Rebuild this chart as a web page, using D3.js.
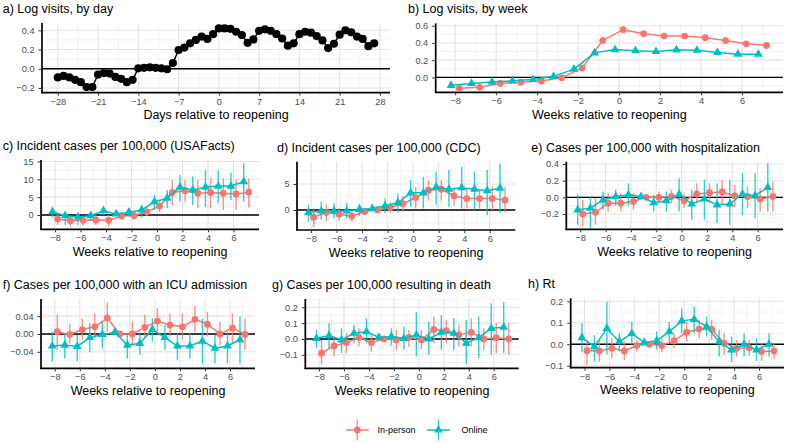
<!DOCTYPE html>
<html><head><meta charset="utf-8">
<script src="https://cdn.jsdelivr.net/npm/d3@7"></script>
<style>body{margin:0;background:#fff} svg{display:block} text{font-family:"Liberation Sans",Arial,Helvetica,sans-serif}</style>
</head><body><svg id="chart" width="786" height="443"></svg>
<script>
// ---------------- DATA ----------------
const days = [-28,-27,-26,-25,-24,-23,-22,-21,-20,-19,-18,-17,-16,-15,-14,-13,-12,-11,-10,-9,-8,-7,-6,-5,-4,-3,-2,-1,0,1,2,3,4,5,6,7,8,9,10,11,12,13,14,15,16,17,18,19,20,21,22,23,24,25,26,27];
const visitsByDay = [-0.09,-0.075,-0.09,-0.115,-0.14,-0.19,-0.19,-0.06,-0.045,-0.05,-0.085,-0.105,-0.14,-0.115,0.005,0.01,0.015,0.01,0.005,-0.005,0.06,0.195,0.22,0.265,0.30,0.335,0.31,0.36,0.42,0.42,0.415,0.385,0.35,0.27,0.305,0.395,0.41,0.395,0.36,0.315,0.24,0.265,0.36,0.385,0.375,0.34,0.295,0.215,0.26,0.355,0.40,0.38,0.335,0.31,0.235,0.265];
const weeks = [-8,-7,-6,-5,-4,-3,-2,-1,0,1,2,3,4,5,6,7];
const seriesNames = ["In-person","Online"];

const visitsWeekInPerson = [-0.127,-0.115,-0.07,-0.055,-0.042,-0.005,0.11,0.427,0.554,0.508,0.48,0.48,0.46,0.427,0.39,0.37];
const visitsWeekOnline   = [-0.092,-0.07,-0.054,-0.04,-0.023,0.012,0.096,0.285,0.323,0.31,0.30,0.32,0.315,0.29,0.27,0.27];

const usafactsInPerson   = [-1.1,-1.6,-1.5,-1.4,-1.5,-0.3,-0.2,0.9,2.5,6.3,6.8,6.1,6.3,6.1,5.9,6.4];
const usafactsInPersonLo = [-2.8,-3.3,-3.1,-2.8,-3.3,-0.3,-1.2,-0.3,0.9,2.8,3.7,1.9,1.9,1.4,1.4,2.2];
const usafactsInPersonHi = [0.5,-0.3,-0.3,0,0,-0.3,0.9,2.2,4.0,9.8,9.8,9.8,10.3,10.3,9.8,10.3];
const usafactsOnline     = [0.9,-0.2,-0.6,-0.2,1.2,0.3,0.8,1.4,3.7,4.7,7.8,7.0,7.8,8.1,8.1,9.3];
const usafactsOnlineLo   = [-0.7,-2.8,-2.8,-1.4,0,0.3,-0.3,-0.7,1.4,1.9,3.7,2.8,2.3,3.3,4.2,3.7];
const usafactsOnlineHi   = [2.3,0.9,0.7,0.7,2.2,0.3,1.9,2.8,5.6,7.0,11.2,10.8,12.6,12.6,11.9,14.5];

const cdcInPerson   = [-1.4,-0.5,-0.8,-1.2,-0.3,0,0.5,1.2,2.4,3.8,4.0,2.7,2.2,2.2,2.2,1.9];
const cdcInPersonLo = [-3.3,-2.2,-2.1,-2.2,-1.0,0,-0.6,-0.3,0.3,1.8,1.8,0.8,0.3,0.3,0,-0.5];
const cdcInPersonHi = [0.3,1.2,0.5,-0.1,0.3,0,1.6,2.7,4.5,5.8,5.8,4.5,4.2,4.0,4.5,4.5];
const cdcOnline     = [-0.5,-0.2,-0.2,-0.2,0.1,0.3,0.8,1.4,3.3,3.3,4.4,4.0,4.3,4.0,3.7,4.2];
const cdcOnlineLo   = [-2.2,-1.9,-1.6,-1.6,-1.2,0.3,-0.6,-0.5,0.6,0.3,1.0,0.6,0.3,0,-1.0,-0.6];
const cdcOnlineHi   = [1.0,1.6,1.3,1.4,1.2,0.3,2.2,3.2,5.8,6.4,7.4,7.7,8.3,7.4,7.7,9.0];

const hospInPerson   = [-0.2,-0.18,-0.07,-0.07,-0.05,0,0,0.01,-0.04,0.04,0.055,0.065,0.02,0.01,-0.02,0.01];
const hospInPersonLo = [-0.35,-0.33,-0.17,-0.17,-0.15,0,-0.07,-0.07,-0.13,-0.08,-0.07,-0.09,-0.12,-0.13,-0.17,-0.17];
const hospInPersonHi = [-0.03,-0.01,0.05,0.05,0.05,0,0.07,0.09,0.05,0.17,0.17,0.21,0.15,0.13,0.11,0.19];
const hospOnline     = [-0.15,-0.13,-0.03,0.01,0.03,0.01,-0.065,-0.04,0.035,-0.08,-0.02,-0.09,-0.08,0.04,0.02,0.12];
const hospOnlineLo   = [-0.33,-0.37,-0.15,-0.1,-0.1,0.01,-0.17,-0.17,-0.17,-0.27,-0.27,-0.31,-0.33,-0.21,-0.25,-0.17];
const hospOnlineHi   = [0.03,0.01,0.07,0.09,0.17,0.01,0.03,0.07,0.23,0.09,0.21,0.17,0.21,0.29,0.29,0.41];

const icuInPerson   = [0.005,-0.001,0.01,0.016,0.036,0,0,0.015,0.029,0.02,0.016,0.033,0.022,0,0.013,-0.001];
const icuInPersonLo = [-0.036,-0.021,-0.013,-0.010,0.005,0,-0.025,-0.010,0.005,-0.006,-0.013,0.005,-0.006,-0.025,-0.021,-0.036];
const icuInPersonHi = [0.044,0.022,0.035,0.046,0.071,0,0.028,0.043,0.058,0.046,0.046,0.064,0.05,0.028,0.046,0.035];
const icuOnline     = [-0.027,-0.025,-0.028,-0.008,-0.001,0.004,-0.025,-0.021,0.01,-0.008,-0.027,-0.027,-0.016,-0.032,-0.027,-0.013];
const icuOnlineLo   = [-0.062,-0.055,-0.061,-0.041,-0.032,0.004,-0.055,-0.047,-0.017,-0.036,-0.058,-0.055,-0.066,-0.066,-0.066,-0.066];
const icuOnlineHi   = [0.005,0.001,-0.002,0.024,0.028,0.004,0.001,0.005,0.035,0.020,0.001,0.001,0.035,-0.002,0.005,0.039];

const deathInPerson   = [-0.09,-0.044,-0.023,0.01,-0.023,0,-0.006,0.01,-0.006,0.06,0.053,0.025,0.042,0,0.008,0];
const deathInPersonLo = [-0.16,-0.11,-0.09,-0.048,-0.08,0,-0.069,-0.048,-0.063,-0.027,-0.027,-0.048,-0.048,-0.069,-0.09,-0.10];
const deathInPersonHi = [-0.006,0.015,0.036,0.067,0.036,0,0.057,0.057,0.057,0.14,0.12,0.088,0.13,0.067,0.099,0.099];
const deathOnline     = [0.004,0.021,-0.006,0.036,0.046,0.01,0.015,0.004,0.025,0,0.042,0.036,-0.027,0.008,0.067,0.074];
const deathOnlineLo   = [-0.055,-0.059,-0.09,-0.027,-0.027,0.01,-0.042,-0.069,-0.11,-0.10,-0.069,-0.069,-0.16,-0.12,-0.10,-0.09];
const deathOnlineHi   = [0.057,0.099,0.067,0.088,0.13,0.01,0.067,0.078,0.17,0.11,0.15,0.13,0.12,0.14,0.225,0.235];

const rtInPerson   = [-0.03,-0.031,-0.019,-0.031,-0.006,0,-0.006,0.017,0.056,0.071,0.07,0.005,-0.019,-0.016,-0.034,-0.031];
const rtInPersonLo = [-0.096,-0.081,-0.065,-0.073,-0.034,0,-0.037,-0.019,0.012,0.028,0.02,-0.05,-0.057,-0.053,-0.078,-0.068];
const rtInPersonHi = [0.02,0.02,0.028,0.012,0.02,0,0.028,0.051,0.105,0.113,0.113,0.051,0.02,0.02,0.005,0.005];
const rtOnline     = [0.031,-0.011,0.074,0.012,0.051,0.008,0.017,0.059,0.109,0.116,0.082,0.012,-0.026,0,-0.026,0];
const rtOnlineLo   = [-0.037,-0.081,-0.047,-0.034,-0.006,0.008,-0.026,0.012,0.051,0.051,0.036,-0.057,-0.084,-0.057,-0.078,-0.057];
const rtOnlineHi   = [0.098,0.043,0.198,0.051,0.105,0.008,0.059,0.105,0.167,0.175,0.129,0.067,0.036,0.051,0.028,0.051];

const dayTicks = [-28,-21,-14,-7,0,7,14,21,28];
const weekTicks = [-8,-6,-4,-2,0,2,4,6];
const titles = {
  a:"a) Log visits, by day", b:"b) Log visits, by week",
  c:"c) Incident cases per 100,000 (USAFacts)", d:"d) Incident cases per 100,000 (CDC)",
  e:"e) Cases per 100,000 with hospitalization", f:"f) Cases per 100,000 with an ICU admission",
  g:"g) Cases per 100,000 resulting in death", h:"h) Rt"
};
const dayAxisTitle = "Days relative to reopening";
const weekAxisTitle = "Weeks relative to reopening";

// ---------------- STYLE / LAYOUT ----------------
const COLORS = ["#F8766D","#00BFC4"];
const FONT_TICK = 9.2, FONT_TITLE = 12.5;
const svg = d3.select("#chart");
const minus = s => String(s).replace(/-/g, "\u2212");

function panel(o){
  const [L,T,R,B] = o.box;
  const g = svg.append("g");
  const x = d3.scaleLinear().domain(o.xDomain).range([L,R]);
  const y = d3.scaleLinear().domain(o.yDomain).range([B,T]);
  const xMinor = o.xTicks.slice(0,-1).map((t,i)=>(t+o.xTicks[i+1])/2)
      .concat([o.xTicks[0]-(o.xTicks[1]-o.xTicks[0])/2, o.xTicks[o.xTicks.length-1]+(o.xTicks[1]-o.xTicks[0])/2])
      .filter(v=>v>o.xDomain[0]&&v<o.xDomain[1]);
  const yStep = o.yTicks[1]-o.yTicks[0];
  const yMinor = o.yTicks.map(t=>t-yStep/2).concat([o.yTicks[o.yTicks.length-1]+yStep/2])
      .filter(v=>v>o.yDomain[0]&&v<o.yDomain[1]);
  // grid
  g.selectAll(null).data(xMinor).join("line").attr("x1",d=>x(d)).attr("x2",d=>x(d)).attr("y1",T).attr("y2",B).attr("stroke","#EBEBEB").attr("stroke-width",0.6);
  g.selectAll(null).data(yMinor).join("line").attr("y1",d=>y(d)).attr("y2",d=>y(d)).attr("x1",L).attr("x2",R).attr("stroke","#EBEBEB").attr("stroke-width",0.6);
  g.selectAll(null).data(o.xTicks.filter(v=>v>=o.xDomain[0]&&v<=o.xDomain[1])).join("line").attr("x1",d=>x(d)).attr("x2",d=>x(d)).attr("y1",T).attr("y2",B).attr("stroke","#E3E3E3").attr("stroke-width",1.1);
  g.selectAll(null).data(o.yTicks).join("line").attr("y1",d=>y(d)).attr("y2",d=>y(d)).attr("x1",L).attr("x2",R).attr("stroke","#E3E3E3").attr("stroke-width",1.1);
  // zero line
  g.append("line").attr("x1",L).attr("x2",R).attr("y1",y(0)).attr("y2",y(0)).attr("stroke","#000").attr("stroke-width",1.4);
  // axes
  const xa = g.append("g").attr("transform",`translate(0,${B})`)
    .call(d3.axisBottom(x).tickValues(o.xTicks).tickSizeOuter(0).tickSize(3).tickPadding(2.5).tickFormat(d=>minus(d)));
  const ya = g.append("g").attr("transform",`translate(${L},0)`)
    .call(d3.axisLeft(y).tickValues(o.yTicks).tickSizeOuter(0).tickSize(3.5).tickPadding(4).tickFormat(d=>minus(d3.format(o.fmt)(d))));
  [xa,ya].forEach(a=>{
    a.select(".domain").attr("stroke","#000").attr("stroke-width",1.7);
    a.selectAll(".tick line").attr("stroke","#333").attr("stroke-width",1);
    a.selectAll(".tick text").attr("fill","#4D4D4D").style("font-size",FONT_TICK+"px").style("font-family","Liberation Sans, Arial, sans-serif");
  });
  ya.select(".domain").attr("d",`M0,${T}V${B+0.8}`);
  xa.select(".domain").attr("d",`M${L-0.8},0H${R}`);
  // titles
  svg.append("text").attr("x",o.titleX).attr("y",T-10).style("font-size",FONT_TITLE+"px").attr("fill","#000").text(o.title);
  svg.append("text").attr("x",(L+R)/2).attr("y",B+26.5).attr("text-anchor","middle").style("font-size",FONT_TITLE+"px").attr("fill","#000").text(o.xTitle);
  return {x,y,g};
}

function drawSeries(p, xs, vals, lo, hi, k, opts={}){
  const color = opts.color || COLORS[k];
  const pts = xs.map((w,i)=>({x:w, v:vals[i], lo: lo?lo[i]:null, hi: hi?hi[i]:null}));
  if (lo) {
    p.g.selectAll(null).data(pts).join("line")
      .attr("x1",d=>p.x(d.x)).attr("x2",d=>p.x(d.x)).attr("y1",d=>p.y(d.lo)).attr("y2",d=>p.y(d.hi))
      .attr("stroke",color).attr("stroke-width",1.4).attr("stroke-opacity",0.8);
  }
  p.g.append("path").datum(pts).attr("d",d3.line().x(d=>p.x(d.x)).y(d=>p.y(d.v)))
    .attr("fill","none").attr("stroke",color).attr("stroke-width",opts.lw||1.5);
  if (k===1 && !opts.color) {
    p.g.selectAll(null).data(pts).join("path").attr("d",d3.symbol(d3.symbolTriangle,34))
      .attr("transform",d=>`translate(${p.x(d.x)},${p.y(d.v)})`).attr("fill",color);
  } else {
    p.g.selectAll(null).data(pts).join("circle").attr("cx",d=>p.x(d.x)).attr("cy",d=>p.y(d.v))
      .attr("r",opts.r||3.4).attr("fill",color);
  }
}

const dodge = 0.2;
const wIn = weeks.map(w=>w+dodge), wOn = weeks.map(w=>w-dodge);
const WX = [-9.1, 8];

// a
const pa = panel({box:[42,23,390,92.7], xDomain:[-30.75,29.75], yDomain:[-0.249,0.476], xTicks:dayTicks, yTicks:[-0.2,0,0.2,0.4], fmt:".1f", title:titles.a, titleX:2.7, xTitle:dayAxisTitle});
drawSeries(pa, days, visitsByDay, null, null, 0, {color:"#000", r:4.1, lw:1.5});

// b
const pb = panel({box:[435.7,23.3,783,92.3], xDomain:[-8.95,8], yDomain:[-0.173,0.628], xTicks:weekTicks, yTicks:[0,0.2,0.4,0.6], fmt:".1f", title:titles.b, titleX:408, xTitle:weekAxisTitle});
drawSeries(pb, wIn, visitsWeekInPerson, null, null, 0);
drawSeries(pb, wOn, visitsWeekOnline, null, null, 1);

const weekPanels = [
  {box:[41,160,259,229.3], yDomain:[-4,15.4], yTicks:[0,5,10,15], fmt:"d", title:titles.c, titleX:2.7,
   s:[[usafactsInPerson,usafactsInPersonLo,usafactsInPersonHi],[usafactsOnline,usafactsOnlineLo,usafactsOnlineHi]]},
  {box:[297,161.7,515.3,230], yDomain:[-3.85,9.3], yTicks:[0,5], fmt:"d", title:titles.d, titleX:277,
   s:[[cdcInPerson,cdcInPersonLo,cdcInPersonHi],[cdcOnline,cdcOnlineLo,cdcOnlineHi]]},
  {box:[566.3,161.7,783,229.3], yDomain:[-0.384,0.428], yTicks:[-0.2,0,0.2,0.4], fmt:".1f", title:titles.e, titleX:531.3,
   s:[[hospInPerson,hospInPersonLo,hospInPersonHi],[hospOnline,hospOnlineLo,hospOnlineHi]]},
  {box:[41,299,255,368.3], yDomain:[-0.077,0.0785], yTicks:[-0.04,0,0.04], fmt:".2f", title:titles.f, titleX:2.7,
   s:[[icuInPerson,icuInPersonLo,icuInPersonHi],[icuOnline,icuOnlineLo,icuOnlineHi]]},
  {box:[305.3,299,518.7,368.3], yDomain:[-0.185,0.252], yTicks:[-0.1,0,0.1,0.2], fmt:".1f", title:titles.g, titleX:272,
   s:[[deathInPerson,deathInPersonLo,deathInPersonHi],[deathOnline,deathOnlineLo,deathOnlineHi]]},
  {box:[570.7,298.3,784,367.7], yDomain:[-0.109,0.214], yTicks:[-0.1,0,0.1,0.2], fmt:".1f", title:titles.h, titleX:528,
   s:[[rtInPerson,rtInPersonLo,rtInPersonHi],[rtOnline,rtOnlineLo,rtOnlineHi]]}
];
weekPanels.forEach(o=>{
  const p = panel(Object.assign({xDomain:WX, xTicks:weekTicks, xTitle:weekAxisTitle}, o));
  drawSeries(p, wIn, o.s[0][0], o.s[0][1], o.s[0][2], 0);
  drawSeries(p, wOn, o.s[1][0], o.s[1][1], o.s[1][2], 1);
});

// legend
const lg = svg.append("g");
const legendItems = [{cx:357.3, tx:377.5},{cx:438.5, tx:461.5}];
seriesNames.forEach((name,k)=>{
  const it = legendItems[k], cy = 430, c = COLORS[k];
  lg.append("line").attr("x1",it.cx-11.5).attr("x2",it.cx+11.5).attr("y1",cy).attr("y2",cy).attr("stroke",c).attr("stroke-width",1.5);
  lg.append("line").attr("x1",it.cx).attr("x2",it.cx).attr("y1",cy-10.5).attr("y2",cy+10.5).attr("stroke",c).attr("stroke-width",1.4).attr("stroke-opacity",0.8);
  if (k===0) lg.append("circle").attr("cx",it.cx).attr("cy",cy).attr("r",3.4).attr("fill",c);
  else lg.append("path").attr("d",d3.symbol(d3.symbolTriangle,34)).attr("transform",`translate(${it.cx},${cy})`).attr("fill",c);
  lg.append("text").attr("x",it.tx).attr("y",cy+3.3).style("font-size","9px").attr("fill","#000").text(name);
});
</script>
</body></html>
